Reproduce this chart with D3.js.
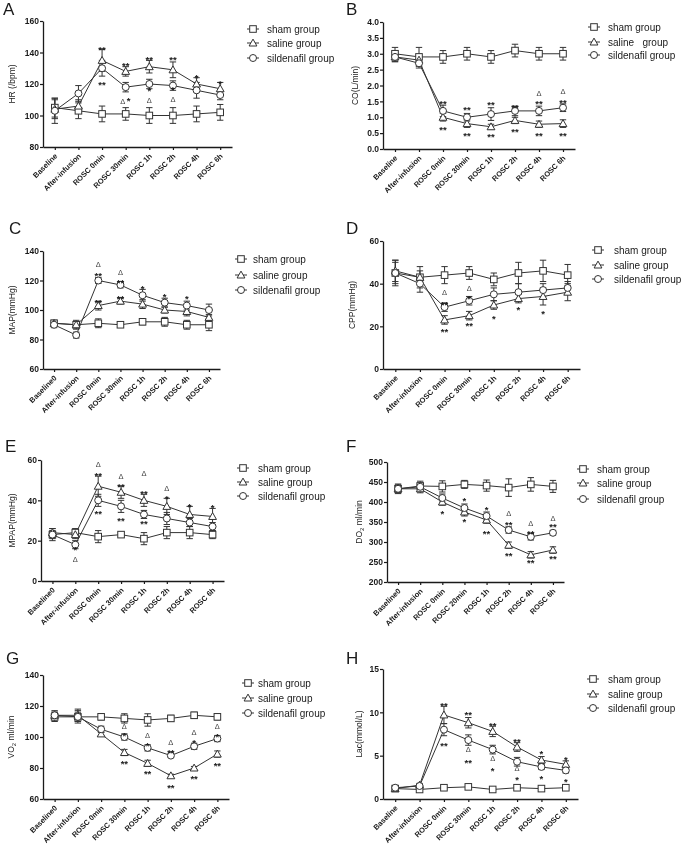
<!DOCTYPE html>
<html>
<head>
<meta charset="utf-8">
<script src="https://cdn.jsdelivr.net/npm/d3@7"></script>
<style>
  body { margin: 0; background: #fff; }
  svg { filter: grayscale(100%); }
  text { font-family: "Liberation Sans", Arial, sans-serif; }
</style>
</head>
<body>
<div id="chart"></div>
<script>
// categories
const cats = ["Baseline", "After-infusion", "ROSC 0min", "ROSC 30min", "ROSC 1h", "ROSC 2h", "ROSC 4h", "ROSC 6h"];
const cats0 = ["Baseline0", "After-infusion", "ROSC 0min", "ROSC 30min", "ROSC 1h", "ROSC 2h", "ROSC 4h", "ROSC 6h"];
const catsF = ["Baseline0", "After-infusion", "ROSC 0min", "ROSC 20min", "ROSC 1h", "ROSC 2h", "ROSC 4h", "ROSC 6h"];
const groups = ["sham group", "saline group", "sildenafil group"];
const groupsB = ["sham group", "saline   group", "sildenafil group"];

// A - HR
const hrSham = [105, 103, 101, 101, 100, 100, 101, 102];
const hrSaline = [104, 106, 135, 128, 131, 129, 120, 117];
const hrSild = [103, 114, 130, 118, 120, 119, 116, 113];
const hrErrSham = [6, 5, 5, 4, 5, 5, 5, 5];
const hrErrSaline = [6, 4, 7, 3, 4, 5, 4, 4];
const hrErrSild = [8, 5, 5, 3, 3, 3, 5, 3];
const hrMarks = [[2, "**", 143.6], [2, "**", 121.5], [3, "**", 133.5], [3, "Δ", 108.8, -3], [3, "*", 111.6, 3],
  [4, "**", 137.7], [4, "*", 118], [4, "Δ", 109.5], [5, "**", 137.3], [5, "*", 118.5], [5, "Δ", 110],
  [6, "*", 126.3], [7, "*", 122.5]];

// B - CO
const coSham = [3.0, 2.9, 2.9, 3.0, 2.9, 3.1, 3.0, 3.0];
const coSaline = [2.9, 2.8, 1.0, 0.8, 0.7, 0.9, 0.78, 0.8];
const coSild = [2.9, 2.7, 1.2, 1.0, 1.1, 1.2, 1.2, 1.3];
const coErrSham = [0.2, 0.3, 0.2, 0.2, 0.2, 0.2, 0.2, 0.2];
const coErrSaline = [0.15, 0.15, 0.12, 0.12, 0.08, 0.1, 0.1, 0.12];
const coErrSild = [0.15, 0.15, 0.18, 0.12, 0.2, 0.15, 0.15, 0.12];
const coMarks = [[2, "**", 1.54], [2, "**", 0.70], [3, "**", 1.33], [3, "**", 0.52], [4, "**", 1.49], [4, "**", 0.49],
  [5, "**", 1.41], [5, "**", 0.65], [6, "Δ", 1.74], [6, "**", 1.52], [6, "**", 0.54],
  [7, "Δ", 1.82], [7, "**", 1.57], [7, "**", 0.54]];

// C - MAP
const mapSham = [91, 90, 91, 90, 92, 92, 90, 90];
const mapSaline = [91, 90, 103, 106, 104, 100, 99, 95];
const mapSild = [90, 83, 120, 117, 110, 105, 103, 100];
const mapErrSham = [2, 2, 3, 1, 2, 3, 3, 4];
const mapErrSaline = [2, 3, 3, 2, 3, 2, 3, 2];
const mapErrSild = [2, 2, 2, 2, 4, 3, 3, 4];
const mapMarks = [[2, "Δ", 131], [2, "**", 125.5], [2, "**", 107.5], [3, "Δ", 125.5], [3, "**", 120.8], [3, "**", 110.2],
  [4, "*", 116.5], [5, "*", 111.3], [6, "*", 109.7]];

// D - CPP
const cppSham = [45, 43, 44, 45, 42, 45, 46, 44];
const cppSaline = [46, 43, 23, 25, 30, 33, 34, 36];
const cppSild = [45, 40, 29, 32, 35, 36, 37, 38];
const cppErrSham = [6, 5, 4, 3, 3, 5, 5, 5];
const cppErrSaline = [5, 3, 2, 2, 2, 2, 4, 4];
const cppErrSild = [5, 4, 2, 2, 3, 4, 3, 3];
const cppMarks = [[2, "Δ", 36], [2, "**", 31.7], [2, "**", 19.2], [3, "Δ", 38], [3, "*", 34.5], [3, "**", 22],
  [4, "*", 25.1], [5, "*", 29.4], [6, "*", 27.5]];

// E - MPAP
const mpapSham = [23, 24, 22, 23, 21, 24, 24, 23];
const mpapSaline = [24, 23, 47, 44, 40, 37, 33, 32];
const mpapSild = [23, 18, 40, 37, 33, 31, 29, 27];
const mpapErrSham = [3, 2, 3, 1, 3, 3, 3, 2];
const mpapErrSaline = [2, 2, 5, 3, 3, 4, 4, 4];
const mpapErrSild = [2, 2, 3, 3, 2, 3, 2, 2];
const mpapMarks = [[1, "*", 17.2], [1, "Δ", 10.8], [2, "Δ", 57.8], [2, "**", 53.7], [2, "**", 35.2],
  [3, "Δ", 52], [3, "**", 48.4], [3, "**", 31.8], [4, "Δ", 53.5], [4, "**", 44.8], [4, "**", 29.9],
  [5, "Δ", 46], [5, "*", 42.6], [6, "*", 38.5], [7, "*", 38.1]];

// F - DO2
const do2Sham = [433, 440, 439, 444, 441, 436, 444, 439];
const do2Saline = [433, 433, 400, 375, 355, 292, 268, 280];
const do2Sild = [433, 438, 410, 385, 365, 330, 313, 323];
const do2ErrSham = [12, 12, 14, 10, 14, 22, 17, 15];
const do2ErrSaline = [10, 10, 8, 10, 8, 8, 8, 8];
const do2ErrSild = [8, 10, 10, 10, 10, 8, 8, 6];
const do2Marks = [[2, "*", 379], [3, "*", 411], [3, "*", 358], [4, "*", 389], [4, "**", 329],
  [5, "Δ", 371], [5, "**", 352], [5, "**", 275], [6, "Δ", 346], [6, "**", 329], [6, "**", 256],
  [7, "Δ", 360], [7, "**", 346], [7, "**", 267]];

// G - VO2
const vo2Sham = [113, 113, 113, 112, 111, 112, 114, 113];
const vo2Saline = [114, 114, 102, 90, 83, 75, 80, 89];
const vo2Sild = [114, 113, 105, 100, 93, 88, 94, 99];
const vo2ErrSham = [3, 3, 2, 3, 4, 2, 2, 2];
const vo2ErrSaline = [3, 4, 1, 2, 2, 1, 1, 2];
const vo2ErrSild = [2, 4, 2, 2, 2, 1, 2, 2];
const vo2Marks = [[3, "Δ", 107], [3, "*", 102.8], [3, "**", 84.9], [4, "Δ", 100.8], [4, "*", 96.3], [4, "**", 78.4],
  [5, "Δ", 96.3], [5, "**", 92], [5, "**", 69.7], [6, "Δ", 103], [6, "*", 98.5], [6, "**", 75.1],
  [7, "Δ", 106.7], [7, "*", 102.2], [7, "**", 83.8]];

// H - Lac
const lacSham = [1.2, 1.1, 1.3, 1.4, 1.1, 1.3, 1.2, 1.3];
const lacSaline = [1.2, 1.6, 9.7, 8.8, 7.8, 6.0, 4.5, 4.0];
const lacSild = [1.3, 1.5, 8.0, 6.8, 5.7, 4.3, 3.7, 3.3];
const lacErrSham = [0.1, 0.1, 0.1, 0.1, 0.1, 0.1, 0.1, 0.1];
const lacErrSaline = [0.1, 0.2, 1.0, 0.6, 0.6, 0.5, 0.4, 0.4];
const lacErrSild = [0.1, 0.2, 0.7, 0.6, 0.5, 0.5, 0.3, 0.3];
const lacMarks = [[2, "**", 11.2], [2, "**", 6.57], [3, "**", 10.1], [3, "Δ", 5.7], [3, "**", 4.6],
  [4, "**", 8.9], [4, "Δ", 4.66], [4, "*", 3.6], [5, "**", 7.0], [5, "Δ", 3.58], [5, "*", 2.6],
  [6, "*", 5.6], [6, "*", 2.7], [7, "*", 4.95], [7, "*", 2.44]];

const svg = d3.select("#chart").append("svg")
  .attr("width", 685)
  .attr("height", 849)
  .style("background", "white");

// panel layout (pixel boxes) + data hookup
const panels = [
  { letter: "A", lx: 3, ly: 15, x0: 43, x1: 232, top: 21, bot: 147, cats: cats, dom: [80, 160], ticks: [80, 100, 120, 140, 160], fmt: d3.format("d"),
    title: ["HR (/bpm)"], tx: 15, legX: 247, legT: 267, legY: [29, 43, 58], names: groups,
    series: [[hrSham, hrErrSham], [hrSaline, hrErrSaline], [hrSild, hrErrSild]], marks: hrMarks },
  { letter: "B", lx: 346, ly: 15, x0: 383, x1: 575, top: 22, bot: 149, cats: cats, dom: [0, 4], ticks: d3.range(0, 4.01, 0.5), fmt: d3.format(".1f"),
    title: ["CO(L/min)"], tx: 358, legX: 588, legT: 608, legY: [27, 42, 55], names: groupsB,
    series: [[coSham, coErrSham], [coSaline, coErrSaline], [coSild, coErrSild]], marks: coMarks },
  { letter: "C", lx: 9, ly: 234, x0: 43, x1: 220, top: 251, bot: 369, cats: cats0, dom: [60, 140], ticks: [60, 80, 100, 120, 140], fmt: d3.format("d"),
    title: ["MAP(mmHg)"], tx: 15, legX: 235, legT: 253, legY: [259, 275, 290], names: groups,
    series: [[mapSham, mapErrSham], [mapSaline, mapErrSaline], [mapSild, mapErrSild]], marks: mapMarks },
  { letter: "D", lx: 346, ly: 234, x0: 383, x1: 580, top: 241, bot: 369, cats: cats, dom: [0, 60], ticks: [0, 20, 40, 60], fmt: d3.format("d"),
    title: ["CPP(mmHg)"], tx: 355, legX: 592, legT: 614, legY: [250, 265, 279], names: groups,
    series: [[cppSham, cppErrSham], [cppSaline, cppErrSaline], [cppSild, cppErrSild]], marks: cppMarks },
  { letter: "E", lx: 5, ly: 452, x0: 41, x1: 224, top: 460, bot: 581, cats: cats0, dom: [0, 60], ticks: [0, 20, 40, 60], fmt: d3.format("d"),
    title: ["MPAP(mmHg)"], tx: 15, legX: 237, legT: 258, legY: [468, 482, 496], names: groups,
    series: [[mpapSham, mpapErrSham], [mpapSaline, mpapErrSaline], [mpapSild, mpapErrSild]], marks: mpapMarks },
  { letter: "F", lx: 346, ly: 452, x0: 387, x1: 564, top: 462, bot: 582, cats: catsF, dom: [200, 500], ticks: d3.range(200, 501, 50), fmt: d3.format("d"),
    title: ["DO", "2", " ml/min"], tx: 362, legX: 577, legT: 597, legY: [469, 483, 499], names: groups,
    series: [[do2Sham, do2ErrSham], [do2Saline, do2ErrSaline], [do2Sild, do2ErrSild]], marks: do2Marks },
  { letter: "G", lx: 6, ly: 664, x0: 43, x1: 229, top: 675, bot: 799, cats: cats0, dom: [60, 140], ticks: [60, 80, 100, 120, 140], fmt: d3.format("d"),
    title: ["VO", "2", " ml/min"], tx: 14, legX: 242, legT: 258, legY: [683, 698, 713], names: groups,
    series: [[vo2Sham, vo2ErrSham], [vo2Saline, vo2ErrSaline], [vo2Sild, vo2ErrSild]], marks: vo2Marks },
  { letter: "H", lx: 346, ly: 664, x0: 383, x1: 578, top: 669, bot: 799, cats: cats, dom: [0, 15], ticks: [0, 5, 10, 15], fmt: d3.format("d"),
    title: ["Lac(mmol/L)"], tx: 362, legX: 587, legT: 608, legY: [679, 694, 708], names: groups,
    series: [[lacSham, lacErrSham], [lacSaline, lacErrSaline], [lacSild, lacErrSild]], marks: lacMarks }
];

const ink = "#1a1a1a";
const lineInk = "#333";

// marker shapes: 0 square, 1 triangle, 2 circle
function drawMarker(g, kind, cx, cy) {
  if (kind === 0) {
    g.append("rect").attr("x", cx - 3.3).attr("y", cy - 3.3).attr("width", 6.6).attr("height", 6.6)
      .attr("fill", "white").attr("stroke", lineInk).attr("stroke-width", 1);
  } else if (kind === 1) {
    g.append("path").attr("d", `M${cx},${cy - 3.9}L${cx + 3.9},${cy + 3}L${cx - 3.9},${cy + 3}Z`)
      .attr("fill", "white").attr("stroke", lineInk).attr("stroke-width", 1);
  } else {
    g.append("circle").attr("cx", cx).attr("cy", cy).attr("r", 3.5)
      .attr("fill", "white").attr("stroke", lineInk).attr("stroke-width", 1);
  }
}

panels.forEach(function(p) {
  const g = svg.append("g");
  const x = d3.scalePoint().domain(p.cats).range([p.x0, p.x1]).padding(0.5);
  const y = d3.scaleLinear().domain(p.dom).range([p.bot, p.top]);

  // panel letter
  g.append("text").attr("x", p.lx).attr("y", p.ly).text(p.letter)
    .style("font-size", "17px").attr("fill", ink);

  // y axis
  const ya = g.append("g").attr("transform", "translate(" + p.x0 + ",0)")
    .call(d3.axisLeft(y).tickValues(p.ticks).tickFormat(p.fmt).tickSize(3).tickSizeOuter(0));
  ya.select(".domain").attr("stroke", ink).attr("stroke-width", 1.3);
  ya.selectAll(".tick line").attr("stroke", ink).attr("stroke-width", 1.2);
  ya.selectAll(".tick text").style("font-size", "8.5px").style("font-weight", "bold").attr("fill", ink).attr("x", -4);

  // x axis
  const xa = g.append("g").attr("transform", "translate(0," + p.bot + ")")
    .call(d3.axisBottom(x).tickSize(3).tickSizeOuter(0));
  xa.select(".domain").attr("stroke", ink).attr("stroke-width", 1.3);
  xa.selectAll(".tick line").attr("stroke", ink).attr("stroke-width", 1.2);
  xa.selectAll(".tick text")
    .style("font-size", "7.5px").style("font-weight", "bold").attr("fill", ink)
    .attr("text-anchor", "end")
    .attr("x", -5).attr("y", 6).attr("dy", "0.35em")
    .attr("transform", "rotate(-45)");

  // y title
  const t = g.append("text")
    .attr("transform", "translate(" + p.tx + "," + ((p.top + p.bot) / 2) + ") rotate(-90)")
    .attr("text-anchor", "middle")
    .style("font-size", "8.5px").attr("fill", ink);
  t.append("tspan").text(p.title[0]);
  if (p.title.length > 1) {
    t.append("tspan").text(p.title[1]).style("font-size", "6px").attr("dy", 2);
    t.append("tspan").text(p.title[2]).attr("dy", -2);
  }

  // lines
  const line = d3.line().x((d, i) => x(p.cats[i])).y(d => y(d));
  p.series.forEach(function(s) {
    g.append("path").datum(s[0]).attr("d", line)
      .attr("fill", "none").attr("stroke", lineInk).attr("stroke-width", 1);
  });

  // error bars
  p.series.forEach(function(s) {
    s[0].forEach(function(m, i) {
      const cx = x(p.cats[i]);
      const e = s[1][i];
      g.append("line").attr("x1", cx).attr("x2", cx).attr("y1", y(m - e)).attr("y2", y(m + e))
        .attr("stroke", lineInk).attr("stroke-width", 1);
      [m - e, m + e].forEach(function(v) {
        g.append("line").attr("x1", cx - 3.2).attr("x2", cx + 3.2).attr("y1", y(v)).attr("y2", y(v))
          .attr("stroke", lineInk).attr("stroke-width", 1);
      });
    });
  });

  // markers
  p.series.forEach(function(s, k) {
    s[0].forEach(function(m, i) {
      drawMarker(g, k, x(p.cats[i]), y(m));
    });
  });

  // significance marks
  p.marks.forEach(function(mk) {
    const isDelta = mk[1] === "Δ";
    g.append("text")
      .attr("x", x(p.cats[mk[0]]) + (mk[3] || 0))
      .attr("y", y(mk[2]))
      .attr("text-anchor", "middle")
      .attr("dy", isDelta ? "0.35em" : "0.7em")
      .style("font-size", isDelta ? "7.5px" : "9.5px")
      .style("font-weight", isDelta ? "normal" : "bold")
      .attr("fill", isDelta ? "#444" : ink)
      .text(mk[1]);
  });

  // legend
  p.names.forEach(function(name, k) {
    const ly = p.legY[k];
    g.append("line").attr("x1", p.legX).attr("x2", p.legX + 12).attr("y1", ly).attr("y2", ly)
      .attr("stroke", lineInk).attr("stroke-width", 1);
    drawMarker(g, k, p.legX + 6, ly);
    g.append("text").attr("x", p.legT).attr("y", ly).attr("dy", "0.35em")
      .style("font-size", "10px").style("white-space", "pre").attr("fill", ink)
      .text(name);
  });
});
</script>
</body>
</html>
